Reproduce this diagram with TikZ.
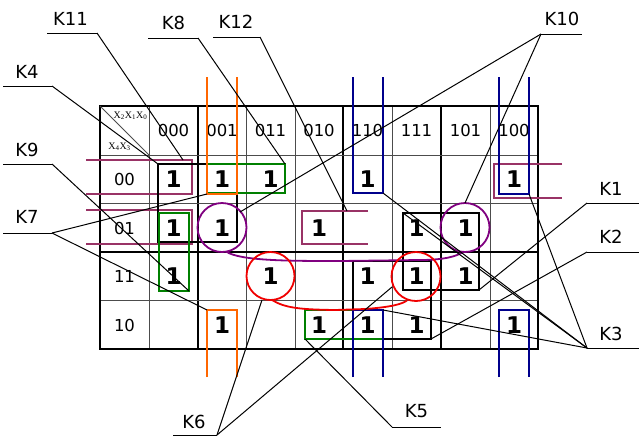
\documentclass[tikz,border=0pt]{standalone}
\usepackage{fontspec}
\setmainfont{DejaVu Sans}
\newfontfamily\serifx{Liberation Serif}
\definecolor{kpurple}{RGB}{153,51,102}
\definecolor{kviolet}{RGB}{128,0,128}
\definecolor{kgreen}{RGB}{0,128,0}
\definecolor{korange}{RGB}{255,102,0}
\definecolor{knavy}{RGB}{0,0,140}
\definecolor{kred}{RGB}{240,0,0}
\tikzset{
  gridthin/.style={line width=0.9pt, black!70},
  gridthick/.style={line width=1.4pt, black},
  gridouter/.style={line width=1.7pt, black},
  onecell/.style={font=\fontsize{23}{23}\selectfont\bfseries, inner sep=0pt},
  hdr/.style={font=\fontsize{16.5}{16.5}\selectfont, inner sep=0pt},
  corner/.style={font=\serifx\fontsize{10}{10}\selectfont, inner sep=0pt},
  klabel/.style={font=\fontsize{18}{18}\selectfont, inner sep=0pt},
  leader/.style={line width=1pt, black},
  grp/.style={line width=1.8pt},
}
\begin{document}
\begin{tikzpicture}[x=1pt,y=-1pt]
\useasboundingbox (0,0) rectangle (639,440);
\fill[white] (0,0) rectangle (639,440);

% ---------- grid ----------
\foreach \x in {149,246,295,392,490} \draw[gridthin] (\x,106) -- (\x,349);
\foreach \x in {198,343,441} \draw[gridthick] (\x,106) -- (\x,349);
\foreach \y in {155,203,300} \draw[gridthin] (100,\y) -- (538,\y);
\draw[gridthick] (100,252) -- (538,252);
\draw[gridouter] (100,106) rectangle (538,349);
\draw[gridthin] (100,106) -- (149,155);

% ---------- headers ----------
\node[corner] (hx210) at (130.5,116) {X\textsubscript{2}X\textsubscript{1}X\textsubscript{0}};
\node[corner] (hx43) at (119.5,147) {X\textsubscript{4}X\textsubscript{3}};
\foreach \n/\x in {000/173.5,001/222,011/270.5,010/319,110/367.5,111/416.5,101/465.5,100/514}
  \node[hdr] (col\n) at (\x,130.5) {\n};
\foreach \n/\y in {00/179.5,01/228,11/276.5,10/325}
  \node[hdr] (row\n) at (124.5,\y) {\n};

% ---------- ones ----------
\foreach \x/\y [count=\i] in {173.5/179.5,222/179.5,270.5/179.5,367.5/179.5,514/179.5,
  173.5/228,222/228,319/228,416.5/228,465.5/228,
  173.5/276.5,270.5/276.5,367.5/276.5,416.5/276.5,465.5/276.5,
  222/325,319/325,367.5/325,416.5/325,514/325}
  \node[onecell] (one\i) at (\x,\y) {1};

% ---------- groups ----------
% purple wrap brackets
\draw[grp,kpurple] (86,160) -- (192,160) -- (192,194) -- (86,194);
\draw[grp,kpurple] (562,164) -- (494,164) -- (494,198) -- (562,198);
\draw[grp,kpurple] (86,210) -- (192,210) -- (192,244) -- (86,244);
\draw[grp,kpurple] (368,211) -- (302,211) -- (302,244) -- (368,244);
% black boxes
\draw[grp,black] (158,164) rectangle (237,242);
\draw[grp,black] (403,213) rectangle (479,290);
\draw[grp,black] (353,261) rectangle (431,339);
% green boxes
\draw[grp,kgreen] (207,164) rectangle (285,193);
\draw[grp,kgreen] (159,213) rectangle (189,291);
\draw[grp,kgreen] (305,310) rectangle (383,339);
% orange
\draw[grp,korange] (207,77) -- (207,194) -- (237,194) -- (237,77);
\draw[grp,korange] (207,377) -- (207,310) -- (237,310) -- (237,377);
% blue
\draw[grp,knavy] (353,77) -- (353,193) -- (383,193) -- (383,77);
\draw[grp,knavy] (499,77) -- (499,194) -- (529,194) -- (529,77);
\draw[grp,knavy] (353,377) -- (353,310) -- (383,310) -- (383,377);
\draw[grp,knavy] (499,377) -- (499,310) -- (529,310) -- (529,377);
% purple circles
\draw[grp,kviolet] (222,227.5) circle[radius=24.5];
\draw[grp,kviolet] (465,227.5) circle[radius=24.5];
\draw[grp,kviolet] (226,251.5) .. controls (240,261) and (290,261) .. (340,261)
  -- (420,260) .. controls (445,260) and (457,256) .. (463,252);
% red circles
\draw[grp,kred] (270.5,276) circle[radius=24];
\draw[grp,kred] (416,276.5) circle[radius=24.5];
\draw[grp,kred] (272,300) .. controls (285,308) and (300,309.5) .. (335,310)
  -- (365,309) .. controls (392,307) and (402,304) .. (407,300.5);

% ---------- labels ----------
\node[klabel] (K11) at (70.5,18.5) {K11};
\node[klabel] (K8) at (173.5,23) {K8};
\node[klabel] (K12) at (236,22) {K12};
\node[klabel] (K4) at (27,72) {K4};
\node[klabel] (K10) at (562,18.5) {K10};
\node[klabel] (K9) at (27,150) {K9};
\node[klabel] (K7) at (27,217) {K7};
\node[klabel] (K1) at (611,188.5) {K1};
\node[klabel] (K2) at (611,236.5) {K2};
\node[klabel] (K3) at (611,333.5) {K3};
\node[klabel] (K5) at (416.5,411.5) {K5};
\node[klabel] (K6) at (194,421.5) {K6};

% underline ends
\coordinate (u11a) at (47,33);   \coordinate (u11b) at (97,33);
\coordinate (u8a) at (148,38);   \coordinate (u8b) at (198,38);
\coordinate (u12a) at (213,37);  \coordinate (u12b) at (260,37);
\coordinate (u4a) at (3,86);     \coordinate (u4b) at (52,86);
\coordinate (u10a) at (541,34);  \coordinate (u10b) at (582,34);
\coordinate (u9a) at (3,164);    \coordinate (u9b) at (52,164);
\coordinate (u7a) at (3,233);    \coordinate (u7b) at (52,233);
\coordinate (u1a) at (587,203);  \coordinate (u1b) at (639,203);
\coordinate (u2a) at (587,252);  \coordinate (u2b) at (639,252);
\coordinate (u3a) at (587,348);  \coordinate (u3b) at (639,348);
\coordinate (u5a) at (392,427);  \coordinate (u5b) at (441,427);
\coordinate (u6a) at (173,435);  \coordinate (u6b) at (217,435);

% targets
\coordinate (t11) at (183,160);
\coordinate (t8) at (285,164);
\coordinate (t12) at (347,211);
\coordinate (t4) at (158,164);
\coordinate (t10a) at (240,212);
\coordinate (t10b) at (465,203);
\coordinate (t9) at (189,291);
\coordinate (t7a) at (207,194);
\coordinate (t7b) at (207,310);
\coordinate (t1) at (479,290);
\coordinate (t2) at (431,339);
\coordinate (t3a) at (529,194);
\coordinate (t3b) at (383,193);
\coordinate (t3c) at (383,310);
\coordinate (t3d) at (403,213);
\coordinate (t5) at (305,339);
\coordinate (t6a) at (262,300);
\coordinate (t6b) at (392,287);

% ---------- leaders ----------
\foreach \a/\b in {u11a/u11b,u8a/u8b,u12a/u12b,u4a/u4b,u10a/u10b,u9a/u9b,u7a/u7b,
  u1a/u1b,u2a/u2b,u3a/u3b,u5a/u5b,u6a/u6b}
  \draw[leader] (\a) -- (\b);
\foreach \a/\b in {u11b/t11,u8b/t8,u12b/t12,u4b/t4,u10a/t10a,u10a/t10b,u9b/t9,
  u7b/t7a,u7b/t7b,u1a/t1,u2a/t2,u3a/t3a,u3a/t3b,u3a/t3c,u3a/t3d,u5a/t5,u6b/t6a,u6b/t6b}
  \draw[leader] (\a) -- (\b);
\end{tikzpicture}
\end{document}
